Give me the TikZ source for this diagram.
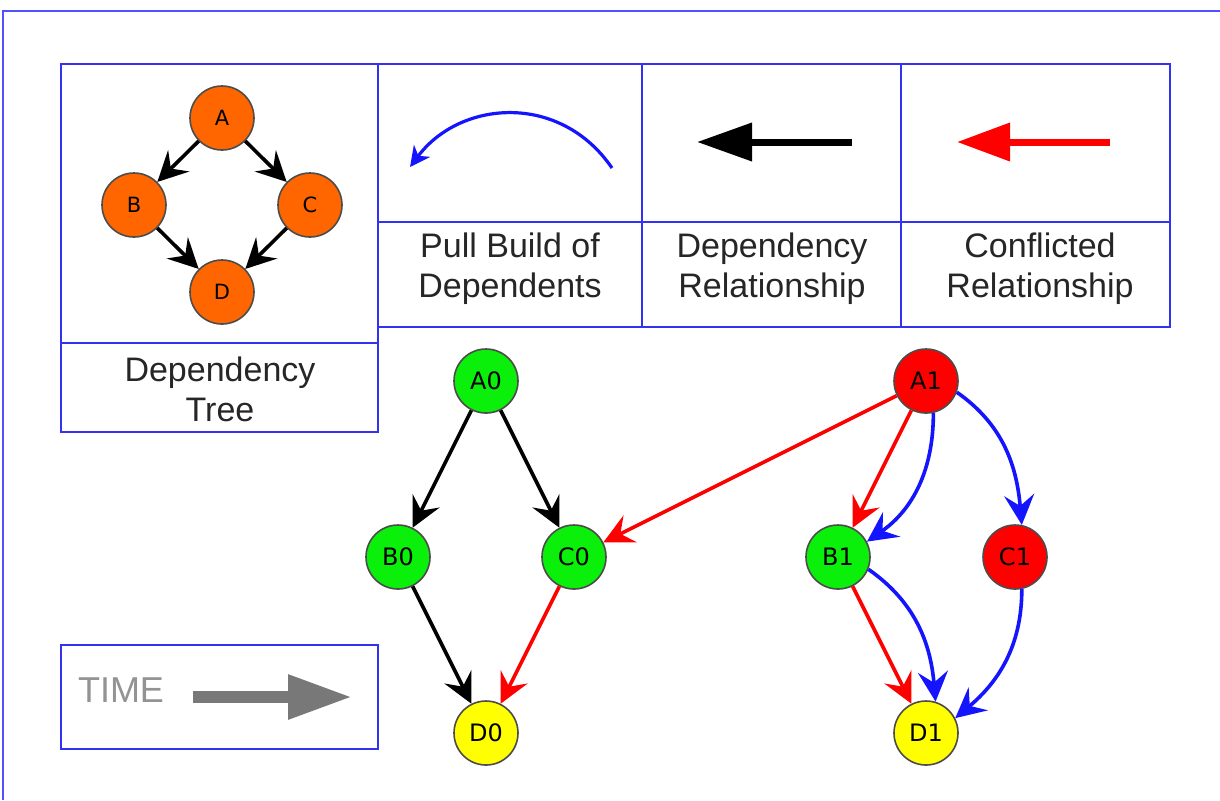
\documentclass[tikz,border=0pt]{standalone}
\usepackage{fontspec}
\setmainfont{Liberation Sans}
\newfontfamily\vertexfont{DejaVu Sans}
\usetikzlibrary{arrows.meta}

\definecolor{frameblue}{RGB}{80,80,255}
\definecolor{boxblue}{RGB}{50,50,240}
\definecolor{treeorange}{RGB}{255,102,0}
\definecolor{okgreen}{RGB}{10,240,10}
\definecolor{badred}{RGB}{255,0,0}
\definecolor{leafyellow}{RGB}{255,255,0}
\definecolor{pullblue}{RGB}{20,20,255}
\definecolor{timegray}{RGB}{120,120,120}

\tikzset{
  vertex/.style={circle,draw=black!70,line width=0.8pt,minimum size=32pt,inner sep=0pt,
    font=\vertexfont\fontsize{12}{13}\selectfont},
  treenode/.style={vertex,fill=treeorange,font=\vertexfont\fontsize{10.5}{12}\selectfont},
  legendtext/.style={align=center,text=black!85,font=\fontsize{17}{20}\selectfont},
  legendbox/.style={draw=boxblue,line width=1pt},
  dep/.style={-{Stealth[length=15pt,width=15pt,inset=5.5pt]},line width=1.8pt},
  pull/.style={dep,draw=pullblue},
  clash/.style={dep,draw=badred}
}

\begin{document}
\begin{tikzpicture}[x=0.5pt,y=-0.5pt]
            \useasboundingbox[fill=white] (0,0) rectangle (1220,800);

            % outer frame
            \draw[frameblue,line width=1.3pt] (3,800) -- (3,11) -- (1220,11);

            % dependency tree legend
            \draw[legendbox] (61,64) rectangle (378,432);
            \draw[legendbox] (61,343) -- (378,343);
            \node[treenode] (A) at (222,118) {A};
            \node[treenode] (B) at (134,205) {B};
            \node[treenode] (C) at (310,205) {C};
            \node[treenode] (D) at (222,292) {D};
            \draw[dep] (A) -- (B);
            \draw[dep] (A) -- (C);
            \draw[dep] (B) -- (D);
            \draw[dep] (C) -- (D);
            \node[legendtext] (treelbl) at (220,389) {Dependency\\Tree};

            % arrow legend
            \draw[legendbox] (378,64) rectangle (1170,327);
            \draw[legendbox] (378,222) -- (1170,222);
            \draw[legendbox] (642,64) -- (642,327);
            \draw[legendbox] (901,64) -- (901,327);

            \coordinate (pullS) at (612,168);
            \coordinate (pullE) at (410,167);
            \draw[pullblue,line width=1.6pt,-{Stealth[length=10pt,width=10pt,inset=3pt]}]
              (pullS) .. controls (560,92) and (460,100) .. (pullE);
            \node[legendtext] (pulllbl) at (510,269) {Pull Build of\\Dependents};

            \coordinate (depS) at (852,142);
            \coordinate (depE) at (697,142);
            \draw[line width=3.5pt,-{Triangle[length=27.5pt,width=18.5pt]}] (depS) -- (depE);
            \node[legendtext] (deplbl) at (772,269) {Dependency\\Relationship};

            \coordinate (clashS) at (1110,142);
            \coordinate (clashE) at (957,142);
            \draw[badred,line width=3.5pt,-{Triangle[length=26.5pt,width=18.5pt]}] (clashS) -- (clashE);
            \node[legendtext] (clashlbl) at (1040,269) {Conflicted\\Relationship};

            % time legend
            \draw[legendbox] (61,645) rectangle (378,749);
            \node[font=\fontsize{18}{20}\selectfont,text=timegray!80] (time) at (121,690) {TIME};
            \coordinate (timeS) at (193,697);
            \coordinate (timeE) at (352,697);
            \draw[timegray,line width=6pt,-{Triangle[length=32pt,width=21pt]}] (timeS) -- (timeE);

            % first build
            \node[vertex,fill=okgreen] (A0) at (486,381) {A0};
            \node[vertex,fill=okgreen] (B0) at (398,557) {B0};
            \node[vertex,fill=okgreen] (C0) at (574,557) {C0};
            \node[vertex,fill=leafyellow] (D0) at (486,733) {D0};
            \draw[dep] (A0) -- (B0);
            \draw[dep] (A0) -- (C0);
            \draw[dep] (B0) -- (D0);
            \draw[clash] (C0) -- (D0);

            % second build
            \node[vertex,fill=badred] (A1) at (926,381) {A1};
            \node[vertex,fill=okgreen] (B1) at (838,557) {B1};
            \node[vertex,fill=badred] (C1) at (1015,557) {C1};
            \node[vertex,fill=leafyellow] (D1) at (926,733) {D1};
            \draw[clash] (A1) -- (C0);
            \draw[clash] (A1) -- (B1);
            \draw[clash] (B1) -- (D1);
            \draw[pull] (A1.-77) to[out=-90,in=35] (B1.28);
            \draw[pull] (A1.-20) to[out=-35,in=95] (C1.78);
            \draw[pull] (B1.-22) to[out=-35,in=95] (D1.73);
            \draw[pull] (C1.-78) to[out=-90,in=40] (D1.27);
        \end{tikzpicture}
\end{document}
